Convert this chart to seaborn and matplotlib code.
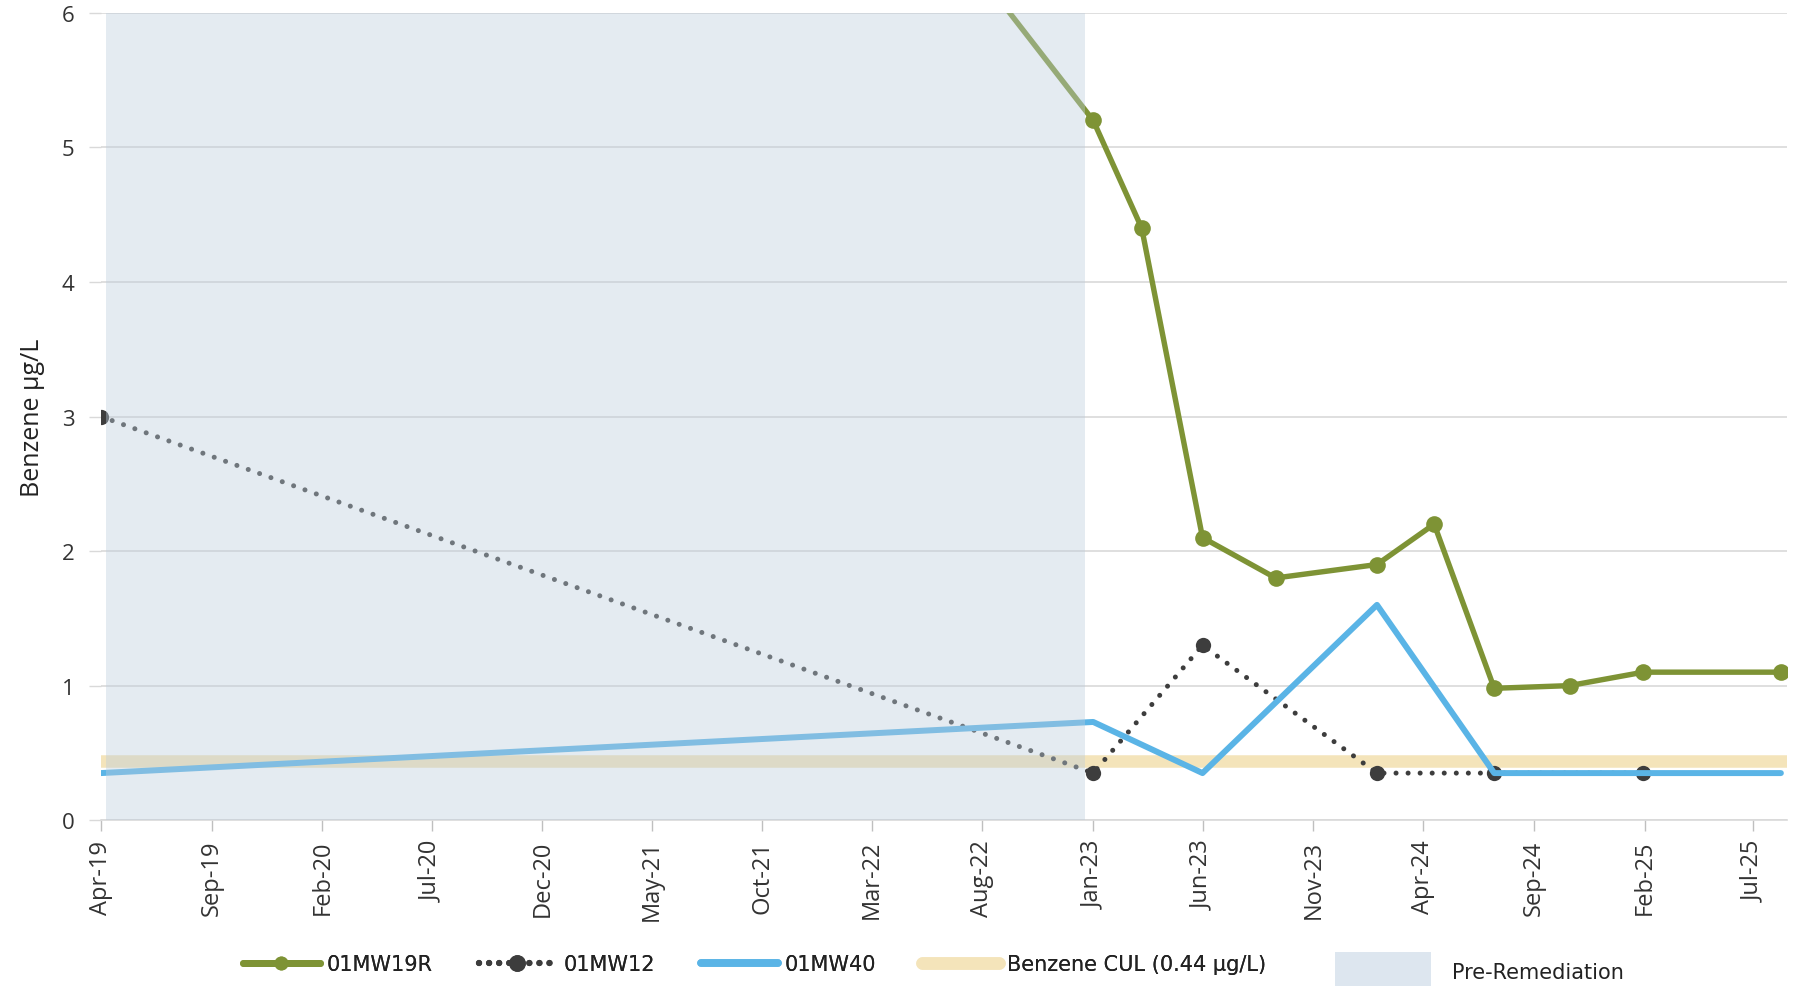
import matplotlib
matplotlib.use('Agg')
import matplotlib.pyplot as plt
import matplotlib.dates as mdates
from matplotlib.lines import Line2D
from matplotlib.patches import Patch
import seaborn as sns
import pandas as pd

# sample dates and benzene results (ug/L)
mw19r_dates = ['2019-04-01', '2023-01-01', '2023-03-09', '2023-06-01', '2023-09-10',
               '2024-01-28', '2024-04-16', '2024-07-08', '2024-10-20', '2025-01-30',
               '2025-08-08']
mw19r_vals = [14.7, 5.2, 4.4, 2.1, 1.8, 1.9, 2.2, 0.98, 1.0, 1.1, 1.1]

mw12_dates = ['2019-04-01', '2023-01-01', '2023-06-01', '2024-01-28', '2024-07-08',
              '2025-01-30']
mw12_vals = [3.0, 0.35, 1.3, 0.35, 0.35, 0.35]

mw40_dates = ['2019-04-01', '2023-01-01', '2023-06-01', '2024-01-28', '2024-07-08',
              '2024-10-20', '2025-01-30', '2025-08-08']
mw40_vals = [0.35, 0.73, 0.35, 1.6, 0.35, 0.35, 0.35, 0.35]

cul_value = 0.44
pre_remediation = ('2019-04-08', '2022-12-20')

green = '#7E9335'
dark = '#3D3D3D'
blue = '#5AB4E6'
tan = '#F4E4BA'

sns.set_theme(style='white')
plt.rcParams['font.family'] = ['Open Sans', 'DejaVu Sans']

df19 = pd.DataFrame({'date': pd.to_datetime(mw19r_dates), 'value': mw19r_vals})
df12 = pd.DataFrame({'date': pd.to_datetime(mw12_dates), 'value': mw12_vals})
df40 = pd.DataFrame({'date': pd.to_datetime(mw40_dates), 'value': mw40_vals})

fig = plt.figure(figsize=(18, 9.87), dpi=100)
ax = fig.add_axes([0.056, 0.168, 0.937, 0.818])

# cleanup level band
ax.axhline(cul_value, color=tan, lw=9, zorder=1)

sns.lineplot(data=df19, x='date', y='value', ax=ax, color=green, lw=3.9,
             marker='o', markersize=12, markeredgewidth=0, zorder=3)
sns.lineplot(data=df12, x='date', y='value', ax=ax, color=dark, lw=3.6,
             linestyle=(0, (0.01, 2.4)), dash_capstyle='round',
             marker='o', markersize=11, markeredgewidth=0, zorder=3)
sns.lineplot(data=df40, x='date', y='value', ax=ax, color=blue, lw=4.3, zorder=4)

# shading drawn on top so the lines fade inside it
ax.axvspan(pd.Timestamp(pre_remediation[0]), pd.Timestamp(pre_remediation[1]),
           color='#BCCDDC', alpha=0.4, lw=0, zorder=5)

ax.set_xlim(pd.Timestamp('2019-04-01'), pd.Timestamp('2025-08-17'))
ax.set_ylim(0, 6)
ax.set_yticks(range(0, 7))

ticks = pd.date_range('2019-04-01', '2025-07-01', freq='5MS')
ax.set_xticks(ticks)
ax.xaxis.set_major_formatter(mdates.DateFormatter('%b-%y'))
ax.tick_params(axis='x', rotation=90, labelsize=17, length=8, width=1,
               color='#BFBFBF', pad=6, labelcolor='#333333', bottom=True)
ax.tick_params(axis='y', labelsize=16, length=9, width=1, color='#D9D9D9',
               pad=10, labelcolor='#333333', left=True)

ax.grid(axis='y', color='#D9D9D9', lw=1.2)
ax.grid(axis='x', visible=False)
for s in ['top', 'right', 'left']:
    ax.spines[s].set_visible(False)
ax.spines['bottom'].set_color('#D9D9D9')
ax.spines['bottom'].set_linewidth(1.2)

ax.set_xlabel('')
ax.set_ylabel('Benzene µg/L', fontsize=18, color='#222222', labelpad=12)

leg_font = {'family': ['Liberation Sans Narrow', 'DejaVu Sans'], 'size': 15}
handles = [
    Line2D([], [], color=green, lw=5, marker='o', markersize=10, markeredgewidth=0),
    Line2D([], [], color=dark, lw=4.5, linestyle=(0, (0.01, 1.6)), dash_capstyle='round',
           marker='o', markersize=12, markeredgewidth=0),
    Line2D([], [], color=blue, lw=5.5),
    Line2D([], [], color=tan, lw=9),
]
labels = ['01MW19R', '01MW12', '01MW40', 'Benzene CUL (0.44 µg/L)']
leg1 = fig.legend(handles, labels, loc='center', bbox_to_anchor=(0.419, 0.022), ncol=4,
                  frameon=False, handlelength=3.7, handletextpad=0.35,
                  columnspacing=2.2, prop=leg_font, labelcolor='#222222')
leg2 = fig.legend([Patch(facecolor='#DDE6EF', edgecolor='none')], ['Pre-Remediation'],
                  loc='center', bbox_to_anchor=(0.822, 0.015), frameon=False,
                  handlelength=4.6, handleheight=2.4, handletextpad=1.0,
                  prop=leg_font, labelcolor='#222222')
fig.add_artist(leg1)

fig.savefig('out.png', dpi=100, facecolor='white')
